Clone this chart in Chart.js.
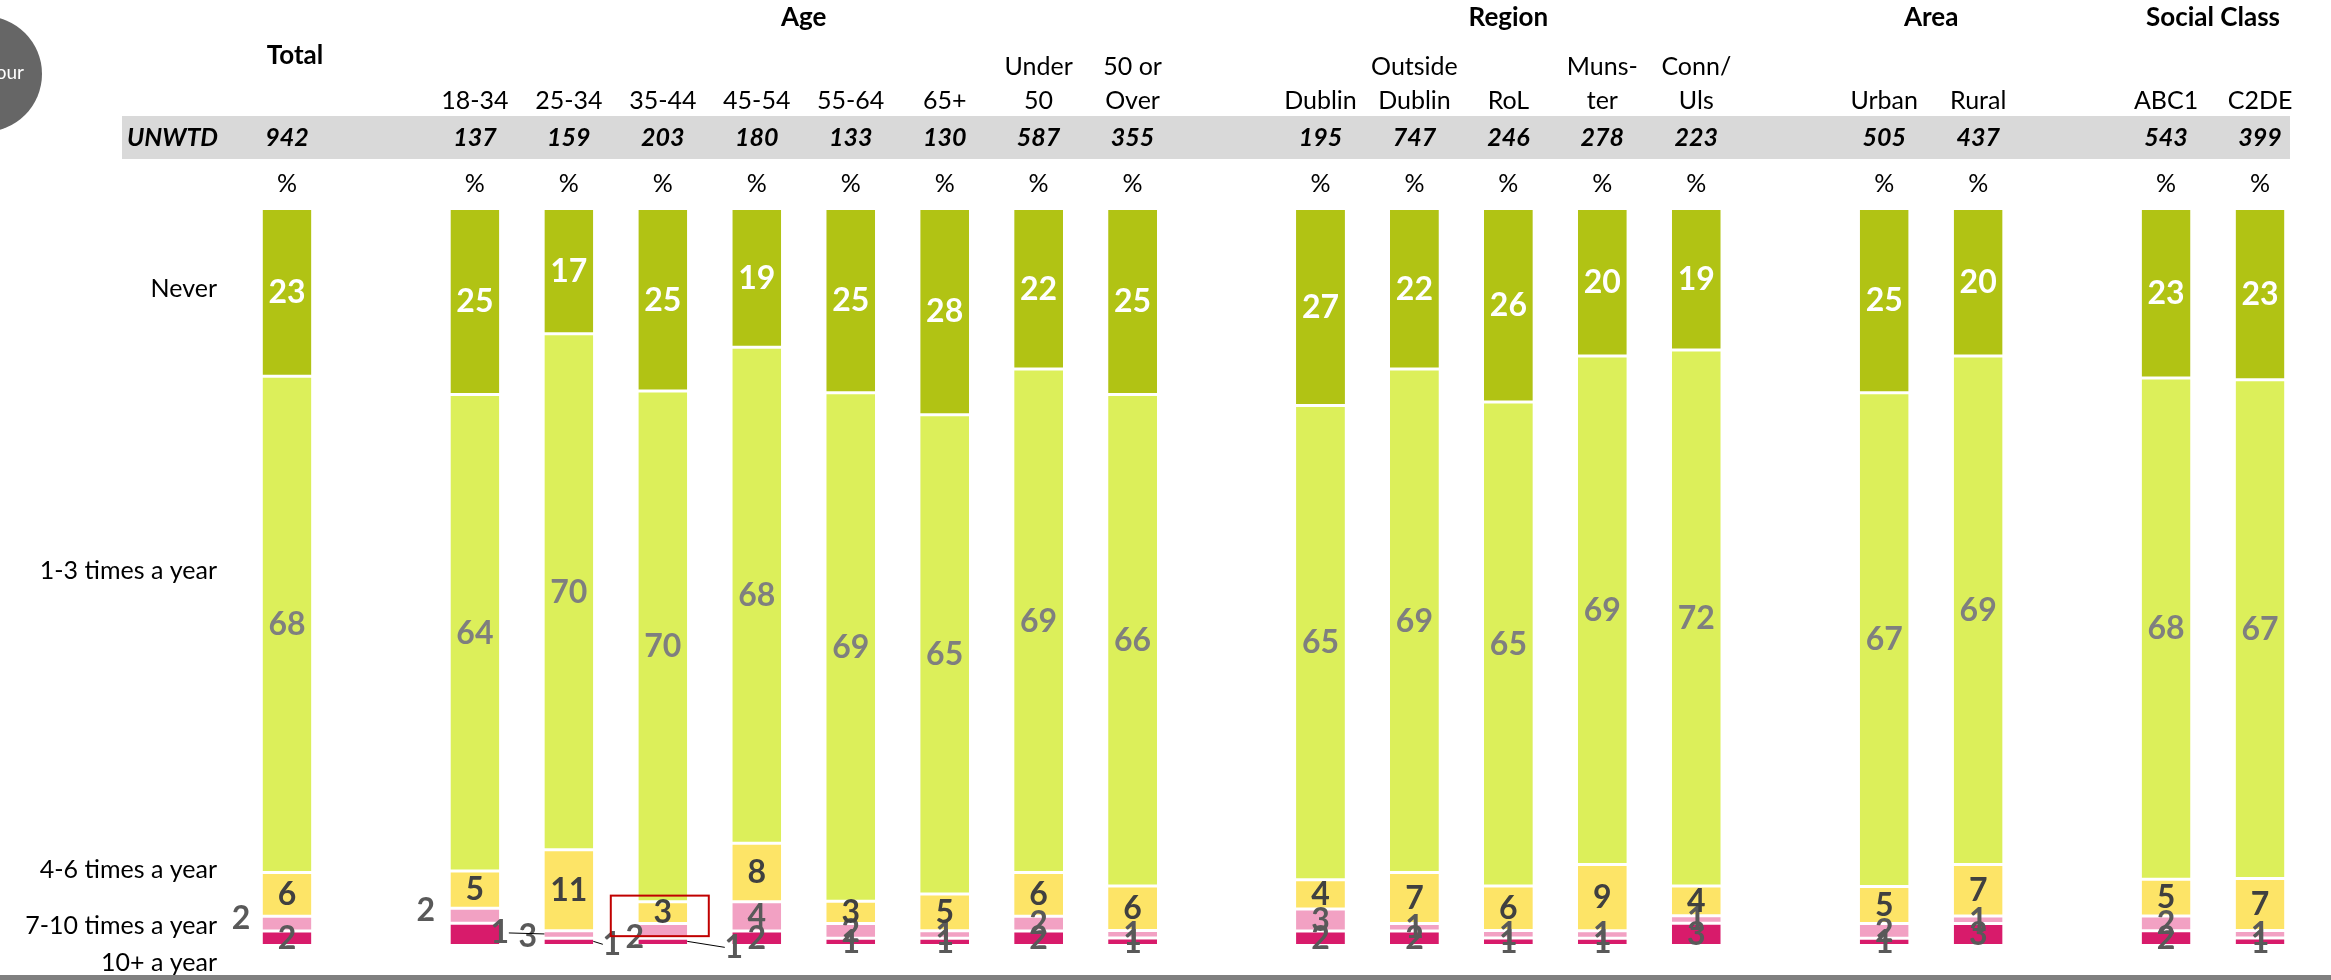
<!DOCTYPE html>
<html>
<head>
<meta charset="utf-8">
<style>
	body{ margin:0; background:#fff; }
	#wrap{ width:2331px; height:980px; }
</style>
<script src="https://cdn.jsdelivr.net/npm/chart.js"></script>
</head>
<body>
<div id="wrap"><canvas id="myChart" width="2331" height="980"></canvas></div>
<script>
// columns ('' = empty gap between groups)
const categories = [['Total'], [''], ['18-34'], ['25-34'], ['35-44'], ['45-54'], ['55-64'], ['65+'], ['Under', '50'], ['50 or', 'Over'], [''],
	['Dublin'], ['Outside', 'Dublin'], ['RoL'], ['Muns-', 'ter'], ['Conn/', 'Uls'], [''], ['Urban'], ['Rural'], [''], ['ABC1'], ['C2DE']]
const groupNames = ['Age', 'Region', 'Area', 'Social Class']
const groupFirst = ['18-34', 'Dublin', 'Urban', 'ABC1']
const groupLast = ['50 or', 'Conn/', 'Rural', 'C2DE']
const unweighted = [942, null, 137, 159, 203, 180, 133, 130, 587, 355, null, 195, 747, 246, 278, 223, null, 505, 437, null, 543, 399]

const seriesNames = ['10+ a year', '7-10 times a year', '4-6 times a year', '1-3 times a year', 'Never']
const tenPlus    = [2, null, 3, 1, 1, 2, 1, 1, 2, 1, null, 2, 2, 1, 1, 3, null, 1, 3, null, 2, 1]
const sevenToTen = [2, null, 2, 1, 2, 4, 2, 1, 2, 1, null, 3, 1, 1, 1, 1, null, 2, 1, null, 2, 1]
const fourToSix  = [6, null, 5, 11, 3, 8, 3, 5, 6, 6, null, 4, 7, 6, 9, 4, null, 5, 7, null, 5, 7]
const oneToThree = [68, null, 64, 70, 70, 68, 69, 65, 69, 66, null, 65, 69, 65, 69, 72, null, 67, 69, null, 68, 67]
const never      = [23, null, 25, 17, 25, 19, 25, 28, 22, 25, null, 27, 22, 26, 20, 19, null, 25, 20, null, 23, 23]

const allSeries = [tenPlus, sevenToTen, fourToSix, oneToThree, never]
const colors = ['#d81b6b', '#f2a1c3', '#fde467', '#dcef5a', '#b1c314']
const labelColors = ['#595959', '#595959', '#404040', '#7f7f7f', '#ffffff']
// where the row names sit on the left (in % of the y axis)
const rowNamePos = [-2.5, 2.6, 10.2, 50.8, 89]
// small labels moved out of their bars: [column, series index, dx, dy, leader]
const labelMoves = [
	['Total', 1, -46, -5, false],
	['18-34', 1, -49, -6, false],
	['18-34', 0, 53, 2, false],
	['25-34', 1, -69, -2, true],
	['25-34', 0, 43, 2, true],
	['35-44', 1, -28, 6, false],
	['35-44', 0, 71, 5, true]
]

const FONT = 'Lato, "Open Sans", sans-serif'

// 100% stacked: normalise each column
const totals = categories.map((c, i) => allSeries.reduce((s, arr) => s + (arr[i] || 0), 0))
const datasets = allSeries.map((arr, k) => ({
	label: seriesNames[k],
	data: arr.map((v, i) => v == null ? null : v / totals[i] * 100),
	raw: arr,
	backgroundColor: colors[k],
	borderColor: '#ffffff',
	borderWidth: { top: 2, bottom: 1, left: 0, right: 0 },
	borderSkipped: false,
	barPercentage: 0.52,
	categoryPercentage: 1
}))

const extras = {
	id: 'extras',
	beforeDraw(chart){
		const c = chart.ctx, x = chart.scales.x, y = chart.scales.y
		c.save()
		// grey band with bases
		c.fillStyle = '#d9d9d9'
		c.fillRect(122, 116, 2168, 43)
		// bottom rule
		c.fillStyle = '#808080'
		c.fillRect(0, 975, 2331, 5)
		// circle top left
		c.fillStyle = '#666666'
		c.beginPath(); c.arc(-16, 74, 58, 0, Math.PI * 2); c.fill()
		c.fillStyle = '#ffffff'
		c.font = '19px ' + FONT
		c.textAlign = 'right'; c.textBaseline = 'middle'
		c.fillText('our', 24, 73)

		c.fillStyle = '#000'
		c.textAlign = 'center'
		// group headers
		c.font = 'bold 26px ' + FONT
		const labs = categories.map(l => l[0])
		groupNames.forEach((g, j) => {
			const a = x.getPixelForValue(labs.indexOf(groupFirst[j]))
			const b = x.getPixelForValue(labs.indexOf(groupLast[j]))
			c.fillText(g, (a + b) / 2, 18)
		})
		categories.forEach((lines, i) => {
			if(lines[0] === '') return
			const cx = x.getPixelForValue(i)
			if(i === 0){
				c.font = 'bold 26px ' + FONT
				c.fillText(lines[0], cx + 8, 56)
			} else {
				c.font = '25px ' + FONT
				if(lines.length === 2){
					c.fillText(lines[0], cx, 67)
					c.fillText(lines[1], cx, 101)
				} else c.fillText(lines[0], cx, 101)
			}
			c.font = 'italic bold 25px ' + FONT
			c.fillText(unweighted[i], cx, 138)
			c.font = '25px ' + FONT
			c.fillText('%', cx, 184)
		})
		c.textAlign = 'left'
		c.font = 'italic bold 25px ' + FONT
		c.fillText('UNWTD', 127, 138)
		// row names
		c.textAlign = 'right'
		c.font = '25px ' + FONT
		seriesNames.forEach((n, k) => c.fillText(n, 217, y.getPixelForValue(rowNamePos[k])))
		c.restore()
	},
	afterDatasetsDraw(chart){
		const c = chart.ctx, x = chart.scales.x, y = chart.scales.y
		const labs = categories.map(l => l[0])
		c.save()
		c.textAlign = 'center'; c.textBaseline = 'middle'
		c.font = 'bold 32px ' + FONT
		chart.data.datasets.forEach((ds, k) => {
			const meta = chart.getDatasetMeta(k)
			meta.data.forEach((bar, i) => {
				if(ds.raw[i] == null) return
				let lx = bar.x, ly = (bar.y + bar.base) / 2 + 1
				const mv = labelMoves.find(m => m[0] === labs[i] && m[1] === k)
				if(mv){
					lx += mv[2]; ly += mv[3]
					if(mv[4]){
						// leader line from the label to the bar edge
						const half = bar.width / 2
						const edge = mv[2] < 0 ? bar.x - half : bar.x + half
						const from = mv[2] < 0 ? lx + 9 : lx - 9
						c.strokeStyle = '#000'; c.lineWidth = 1
						c.beginPath(); c.moveTo(edge, (bar.y + bar.base) / 2); c.lineTo(from, ly); c.stroke()
					}
				}
				c.fillStyle = labelColors[k]
				c.fillText(ds.raw[i], lx, ly)
			})
		})
		// red highlight box round 35-44 '4-6 times'
		const cx = x.getPixelForValue(labs.indexOf('35-44'))
		c.strokeStyle = '#c00000'; c.lineWidth = 2
		const top = y.getPixelForValue(6.7), bot = y.getPixelForValue(1.2)
		c.strokeRect(cx - 52, top, 98, bot - top)
		c.restore()
	}
}

new Chart(document.getElementById('myChart'), {
	type: 'bar',
	data: { labels: categories, datasets: datasets },
	options: {
		responsive: false,
		animation: false,
		layout: { padding: { left: 240, right: 24, top: 208, bottom: 35 } },
		plugins: { legend: { display: false }, tooltip: { enabled: false } },
		scales: {
			x: { display: false, stacked: true },
			y: { display: false, stacked: true, min: 0, max: 100 }
		}
	},
	plugins: [extras]
})
</script>
</body>
</html>
